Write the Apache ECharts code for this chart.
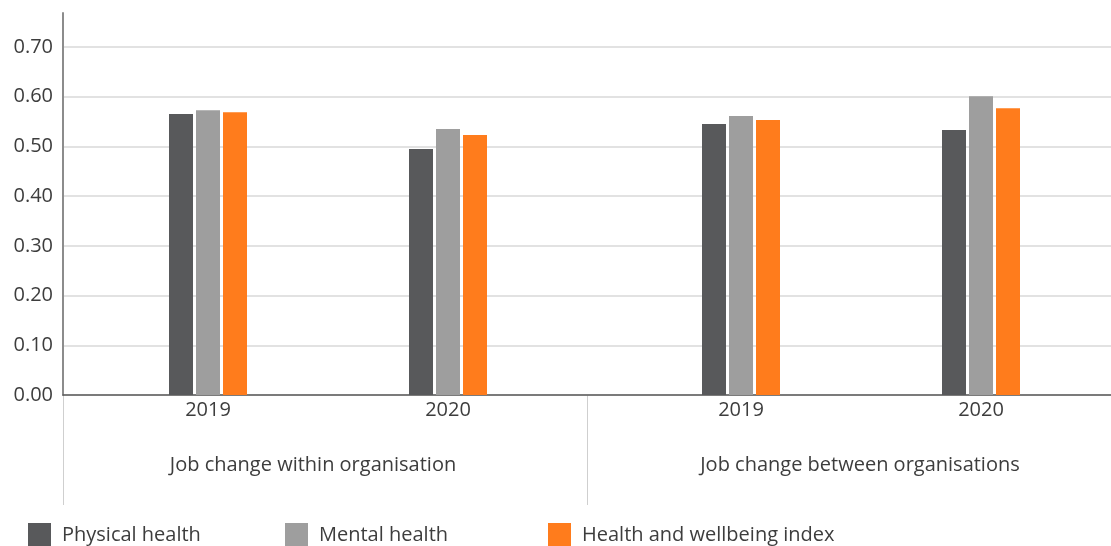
<!DOCTYPE html>
<html>
<head>
<meta charset="utf-8">
<script src="https://cdn.jsdelivr.net/npm/echarts@6/dist/echarts.min.js"></script>
<style>
  html, body { margin: 0; padding: 0; background: #fff; }
  #chart { width: 1111px; height: 546px; }
</style>
</head>
<body>
<div id="chart"></div>
<script>
// Category labels
const groups = ['Job change within organisation', 'Job change between organisations'];
const years = ['2019', '2020'];
const seriesNames = ['Physical health', 'Mental health', 'Health and wellbeing index'];

// Scores by year, job change within the same organisation
const physicalWithin = [0.565, 0.495];
const mentalWithin = [0.573, 0.535];
const indexWithin = [0.569, 0.523];

// Scores by year, job change between organisations
const physicalBetween = [0.545, 0.533];
const mentalBetween = [0.561, 0.601];
const indexBetween = [0.553, 0.577];

// Value axis range
const yMin = 0, yMax = 0.7, yStep = 0.1;

const colors = ['#58595b', '#9e9e9e', '#ff7c1c'];
const FONT = '"Open Sans", "Noto Sans", sans-serif';
const TEXT = '#3d3d3d';
const FS = 20;

const chart = echarts.init(document.getElementById('chart'), null, { renderer: 'canvas' });

function bars(name, data, idx, axis) {
  return {
    name: name,
    type: 'bar',
    xAxisIndex: axis,
    yAxisIndex: axis,
    data: data,
    barWidth: 24,
    barGap: '12.5%',
    itemStyle: { color: colors[idx] },
    emphasis: { disabled: true }
  };
}

// One legend block per series, laid out in fixed columns
const legendLefts = [28, 285, 548];
const legends = seriesNames.map(function (name, i) {
  return {
    data: [name],
    left: legendLefts[i], top: 523,
    padding: 0,
    icon: 'rect',
    itemWidth: 23, itemHeight: 25,
    selectedMode: false,
    textStyle: { fontSize: FS, color: TEXT, fontFamily: FONT, padding: [0, 0, 0, 6] }
  };
});

const hiddenY = { type: 'value', min: yMin, max: yMax, show: false };
const yearAxis = {
  type: 'category', data: years,
  axisLine: { show: false }, axisTick: { show: false },
  axisLabel: { fontSize: FS, color: TEXT, margin: 5, fontFamily: FONT }
};

chart.setOption({
  animation: false,
  color: colors,
  textStyle: { fontFamily: FONT },
  grid: [
    { left: 63, right: 0, top: 47, bottom: 151 },   // gridlines, value labels, baseline
    { left: 88, width: 480, top: 47, bottom: 151 }, // within organisation
    { left: 621, width: 480, top: 47, bottom: 151 },// between organisations
    { left: 63, right: 0, top: 13, bottom: 151 },   // value axis stem
    { left: 63, right: 0, top: 395, bottom: 41 }    // group band below the axis
  ],
  xAxis: [
    {
      gridIndex: 0, type: 'category', data: [''],
      axisLine: { show: true, lineStyle: { color: '#5a5a5a', width: 1.5 } },
      axisTick: { show: false }, axisLabel: { show: false }, splitLine: { show: false }
    },
    Object.assign({ gridIndex: 1 }, yearAxis),
    Object.assign({ gridIndex: 2 }, yearAxis),
    { gridIndex: 3, type: 'category', data: [''], show: false },
    {
      gridIndex: 4, type: 'category', data: groups, position: 'bottom', offset: -57,
      axisLine: { show: false }, axisTick: { show: false },
      splitLine: { show: true, lineStyle: { color: '#cfcfcf', width: 1 } },
      axisLabel: {
        margin: 7, fontSize: FS, color: TEXT, fontFamily: FONT,
        formatter: function (v, i) { return (i === 0 ? '{a|' : '{b|') + v + '}'; },
        rich: {
          a: { fontSize: FS, color: TEXT, fontFamily: FONT, padding: [0, 24, 0, 0] },
          b: { fontSize: FS, color: TEXT, fontFamily: FONT, padding: [0, 0, 0, 22] }
        }
      }
    }
  ],
  yAxis: [
    {
      gridIndex: 0, type: 'value', min: yMin, max: yMax, interval: yStep,
      axisLine: { show: false }, axisTick: { show: false },
      axisLabel: {
        fontSize: FS, color: TEXT, margin: 10, fontFamily: FONT,
        formatter: function (v) { return v.toFixed(2); }
      },
      splitLine: { show: true, lineStyle: { color: '#d9d9d9', width: 1.5 } }
    },
    Object.assign({ gridIndex: 1 }, hiddenY),
    Object.assign({ gridIndex: 2 }, hiddenY),
    {
      gridIndex: 3, type: 'value', min: 0, max: 1,
      axisLine: { show: true, lineStyle: { color: '#8c8c8c', width: 2 } },
      axisTick: { show: false }, axisLabel: { show: false }, splitLine: { show: false }
    },
    { gridIndex: 4, type: 'value', show: false }
  ],
  legend: legends,
  series: [
    bars(seriesNames[0], physicalWithin, 0, 1),
    bars(seriesNames[1], mentalWithin, 1, 1),
    bars(seriesNames[2], indexWithin, 2, 1),
    bars(seriesNames[0], physicalBetween, 0, 2),
    bars(seriesNames[1], mentalBetween, 1, 2),
    bars(seriesNames[2], indexBetween, 2, 2)
  ]
});
</script>
</body>
</html>
